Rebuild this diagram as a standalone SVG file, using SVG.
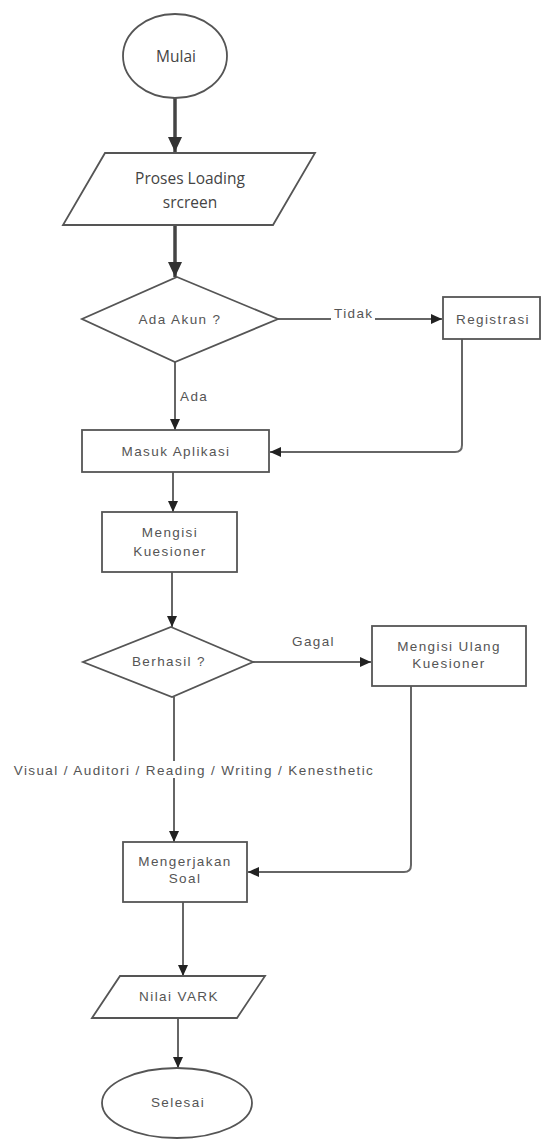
<svg xmlns="http://www.w3.org/2000/svg" width="541" height="1139" viewBox="0 0 541 1139">
<style>
.shape{fill:#ffffff;stroke:#555555;stroke-width:1.8}
.big{font-family:"Open Sans","Noto Sans",sans-serif;font-size:15.5px;fill:#444444;text-anchor:middle}
.txt{font-family:"Liberation Sans",Arial,sans-serif;font-size:13.5px;letter-spacing:1.4px;fill:#555555;text-anchor:middle}
.lbl{font-family:"Liberation Sans",Arial,sans-serif;font-size:13.5px;letter-spacing:1.4px;fill:#555555}
.edge{fill:none;stroke:#666666;stroke-width:2}
.thick{fill:none;stroke:#444444;stroke-width:3.5}
</style>
<defs>
<marker id="arr" markerWidth="12" markerHeight="10" refX="11" refY="5" orient="auto" markerUnits="userSpaceOnUse">
<path d="M0,0 L11,5 L0,10 Z" fill="#222222"/>
</marker>
<marker id="arrBig" markerWidth="16" markerHeight="14" refX="15" refY="7" orient="auto" markerUnits="userSpaceOnUse">
<path d="M0,0 L15,7 L0,14 Z" fill="#333333"/>
</marker>
</defs>
<rect width="541" height="1139" fill="#ffffff"/>

<g id="connectors">
<line class="thick" x1="175" y1="98" x2="175" y2="152" marker-end="url(#arrBig)"/>
<line class="thick" x1="175" y1="226" x2="175" y2="277" marker-end="url(#arrBig)"/>
<line class="edge" x1="278" y1="319" x2="442" y2="319" marker-end="url(#arr)"/>
<line class="edge" x1="175" y1="362" x2="175" y2="430" marker-end="url(#arr)"/>
<path class="edge" d="M462,339 V445 Q462,452 455,452 H270" marker-end="url(#arr)"/>
<line class="edge" x1="173" y1="472" x2="173" y2="512" marker-end="url(#arr)"/>
<line class="edge" x1="172" y1="572" x2="172" y2="627" marker-end="url(#arr)"/>
<line class="edge" x1="253" y1="662" x2="371" y2="662" marker-end="url(#arr)"/>
<line class="edge" x1="174" y1="697" x2="174" y2="842" marker-end="url(#arr)"/>
<path class="edge" d="M411,686 V865 Q411,872 404,872 H248" marker-end="url(#arr)"/>
<line class="edge" x1="183" y1="902" x2="183" y2="976" marker-end="url(#arr)"/>
<line class="edge" x1="178" y1="1018" x2="178" y2="1068" marker-end="url(#arr)"/>
<rect x="331" y="307" width="44" height="13" fill="#ffffff"/>
<text class="lbl" x="334" y="318">Tidak</text>
<text class="lbl" x="180" y="401">Ada</text>
<text class="lbl" x="292" y="646">Gagal</text>
<rect x="12" y="761" width="362" height="17" fill="#ffffff"/>
<text class="txt" x="194" y="775">Visual / Auditori / Reading / Writing / Kenesthetic</text>
</g>

<g id="mulai">
<ellipse class="shape" cx="175" cy="56" rx="52" ry="42" stroke-width="2"/>
<text class="big" x="176" y="62">Mulai</text>
</g>

<g id="proses-loading">
<polygon class="shape" points="105,153 315,153 273,225 63,225"/>
<text class="big" x="190" y="184">Proses Loading</text>
<text class="big" x="190" y="208">srcreen</text>
</g>

<g id="ada-akun">
<polygon class="shape" points="177,277 278,319 175,362 82,319"/>
<text class="txt" x="180" y="324">Ada Akun ?</text>
</g>

<g id="registrasi">
<rect class="shape" x="443" y="297" width="97" height="42"/>
<text class="txt" x="493" y="324">Registrasi</text>
</g>

<g id="masuk-aplikasi">
<rect class="shape" x="82" y="430" width="187" height="42"/>
<text class="txt" x="176" y="456">Masuk Aplikasi</text>
</g>

<g id="mengisi-kuesioner">
<rect class="shape" x="102" y="512" width="135" height="60"/>
<text class="txt" x="170" y="537">Mengisi</text>
<text class="txt" x="170" y="556">Kuesioner</text>
</g>

<g id="berhasil">
<polygon class="shape" points="171,627 253,662 172,697 83,662"/>
<text class="txt" x="169" y="666">Berhasil ?</text>
</g>

<g id="mengisi-ulang">
<rect class="shape" x="372" y="626" width="154" height="60"/>
<text class="txt" x="449" y="651">Mengisi Ulang</text>
<text class="txt" x="449" y="668">Kuesioner</text>
</g>

<g id="mengerjakan-soal">
<rect class="shape" x="123" y="842" width="124" height="60"/>
<text class="txt" x="185" y="866">Mengerjakan</text>
<text class="txt" x="185" y="883">Soal</text>
</g>

<g id="nilai-vark">
<polygon class="shape" points="120,976 265,976 237,1018 92,1018"/>
<text class="txt" x="179" y="1001">Nilai VARK</text>
</g>

<g id="selesai">
<ellipse class="shape" cx="177" cy="1103" rx="75" ry="35"/>
<text class="txt" x="178" y="1107">Selesai</text>
</g>
</svg>
